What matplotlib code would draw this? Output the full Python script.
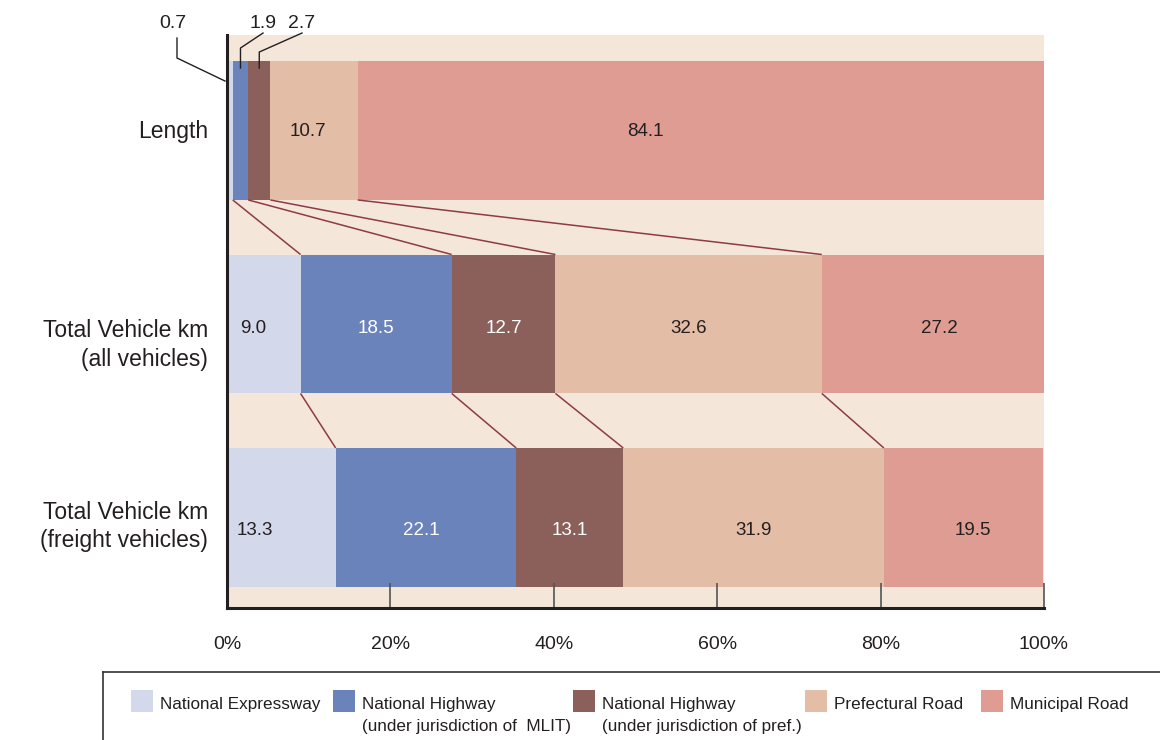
import matplotlib.pyplot as plt
from matplotlib.patches import Rectangle

plt.rcParams['font.family'] = ['Liberation Sans', 'DejaVu Sans']

# data
rows = ['Length', 'Total Vehicle km\n(all vehicles)', 'Total Vehicle km\n(freight vehicles)']
road_types = ['National Expressway', 'National Highway\n(under jurisdiction of  MLIT)',
              'National Highway\n(under jurisdiction of pref.)', 'Prefectural Road', 'Municipal Road']
length_share = [0.7, 1.9, 2.7, 10.7, 84.1]
all_vehicle_share = [9.0, 18.5, 12.7, 32.6, 27.2]
freight_share = [13.3, 22.1, 13.1, 31.9, 19.5]
tick_values = [0, 20, 40, 60, 80, 100]

colors = ['#D3D8EA', '#6A83BB', '#8B5F5A', '#E4BDA7', '#DE9C93']
text_colors = ['#231F20', 'white', 'white', '#231F20', '#231F20']
dark = '#231F20'
link_color = '#8E3A48'

# layout tweaks (pixels) for label placement as in the original
row_label_dy = [1, 21, 9]
value_label_dy = [1.5, 5, 13]
value_label_dx = {(0, 3): -6, (0, 4): -56, (1, 0): -11, (1, 4): 6, (2, 0): -27, (2, 1): -5, (2, 4): 9}

W, H = 1160, 740
fig = plt.figure(figsize=(W / 100, H / 100), dpi=100)
ax = fig.add_axes([227 / W, 1 - 608 / H, (1044 - 227) / W, (608 - 35) / H])
ax.set_facecolor('#F4E7DA')
dxp = 100 / 817
dyp = 1 / 193.5

shares = [length_share, all_vehicle_share, freight_share]
bar_h = 0.718
cums = []
for r, vals in enumerate(shares):
    left = 0
    cum = []
    for i, v in enumerate(vals):
        ax.barh(r, v, left=left, height=bar_h, color=colors[i], linewidth=0)
        if r > 0 or i >= 3:
            ax.text(left + v / 2 + value_label_dx.get((r, i), 0) * dxp, r + value_label_dy[r] * dyp,
                    f'{v:.1f}', ha='center', va='center', fontsize=13.5, color=text_colors[i])
        left += v
        cum.append(left)
    cums.append(cum)
    ax.text(-19 * dxp, r + row_label_dy[r] * dyp, rows[r], ha='right', va='center',
            fontsize=16.5, color=dark, linespacing=1.3, clip_on=False)

# connector lines between bars
for r in range(len(shares) - 1):
    for k in range(4):
        ax.plot([cums[r][k], cums[r + 1][k]], [r + bar_h / 2, r + 1 - bar_h / 2],
                color=link_color, lw=1.1, solid_capstyle='butt')

ax.set_xlim(0, 100)
ax.set_ylim(2 + 0.468, -0.4935)
ax.set_yticks([])
ax.set_xticks(tick_values)
ax.set_xticklabels([f'{t}%' for t in tick_values], fontsize=14, color=dark)
ax.tick_params(axis='x', direction='in', length=18, width=1.2, color='#555555', pad=20)
for s in ['top', 'right']:
    ax.spines[s].set_visible(False)
for s in ['left', 'bottom']:
    ax.spines[s].set_linewidth(2.2)
    ax.spines[s].set_color(dark)

# small-value callouts on the Length bar
top = -bar_h / 2
lab_y = top - 38 * dyp
# 0.7 : vertical then diagonal to the axis edge
v0 = length_share[0]
ax.text(-54 * dxp, lab_y, f'{v0:.1f}', ha='center', va='center', fontsize=14, color=dark, clip_on=False)
ax.plot([-50 * dxp, -50 * dxp, -2 * dxp], [top - 23 * dyp, top - 3 * dyp, top + 20 * dyp],
        color=dark, lw=1, clip_on=False)
# 1.9 and 2.7 : diagonal then vertical down into the segment
c1 = length_share[0] + length_share[1] / 2
c2 = length_share[0] + length_share[1] + length_share[2] / 2
for c, v, tx, elbow in [(c1, length_share[1], 263, 13), (c2, length_share[2], 302, 9)]:
    xt = (tx - 227) * dxp
    ax.text(xt, lab_y, f'{v:.1f}', ha='center', va='center', fontsize=14, color=dark, clip_on=False)
    ax.plot([xt, c, c], [top - 28 * dyp, top - elbow * dyp, top + 7 * dyp],
            color=dark, lw=1, clip_on=False)


# legend box
def fx(px):
    return px / W


def fy(py):
    return 1 - py / H


fig.add_artist(plt.Line2D([fx(103), fx(W)], [fy(672), fy(672)], color='#333333', lw=1.2))
fig.add_artist(plt.Line2D([fx(103), fx(103)], [fy(672), fy(H)], color='#333333', lw=1.2))
patch_x = [131, 333, 573, 805, 981]
for i, name in enumerate(road_types):
    fig.add_artist(Rectangle((fx(patch_x[i]), fy(712)), 22 / W, 22 / H,
                             transform=fig.transFigure, color=colors[i], lw=0))
    fig.text(fx(patch_x[i] + 29), fy(697), name, ha='left', va='top',
             fontsize=12.3, color=dark, linespacing=1.6)

fig.savefig('out.png', dpi=100, facecolor='white')
